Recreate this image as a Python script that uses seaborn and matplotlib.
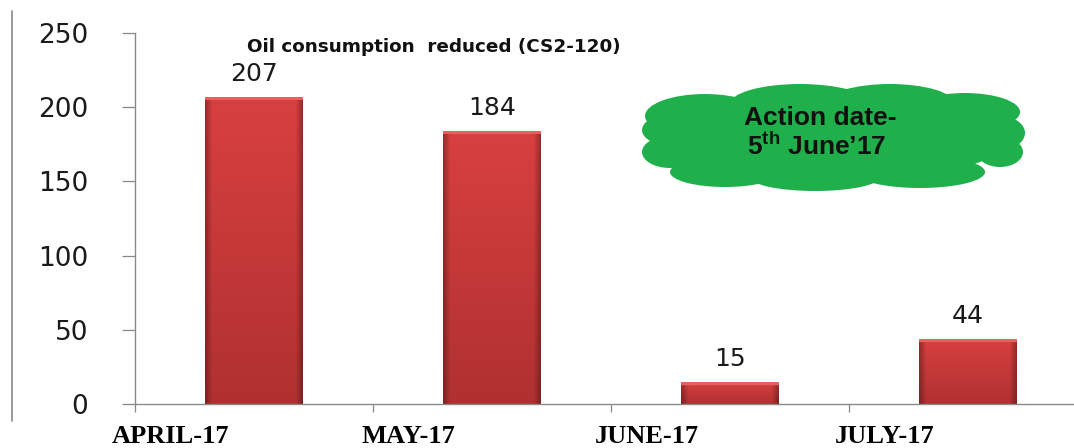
import matplotlib
matplotlib.use("Agg")
import matplotlib.pyplot as plt
from matplotlib.patches import Ellipse
from matplotlib.lines import Line2D
import seaborn as sns
import pandas as pd
import numpy as np

months = ["APRIL-17", "MAY-17", "JUNE-17", "JULY-17"]
values = [207, 184, 15, 44]
yticks = [0, 50, 100, 150, 200, 250]
title = "Oil consumption  reduced (CS2-120)"

sns.set_theme(style="white")
plt.rcParams["font.family"] = ["DejaVu Sans"]
plt.rcParams["mathtext.fontset"] = "custom"
plt.rcParams["mathtext.bf"] = "Liberation Sans:bold"
plt.rcParams["mathtext.rm"] = "Liberation Sans"

W, H = 1074, 448
fig = plt.figure(figsize=(W / 100, H / 100), dpi=100)
fig.patch.set_facecolor("white")

left_px, right_px, top_px, bottom_px = 135, 1087, 33, 404
ax = fig.add_axes([left_px / W, (H - bottom_px) / H,
                   (right_px - left_px) / W, (bottom_px - top_px) / H])

df = pd.DataFrame({"month": months, "value": values})
sns.barplot(data=df, x="month", y="value", color="#C73836", width=0.41,
            linewidth=0, saturation=1, ax=ax)

ax.set_xlim(-0.5, len(months) - 0.5)
ax.set_ylim(0, 250)

# gradient shading of each bar, clipped to the bar shape
px_per_unit = (bottom_px - top_px) / 250.0
for patch in list(ax.patches):
    x0, y0 = patch.get_x(), patch.get_y()
    w, h = patch.get_width(), patch.get_height()
    ny = max(int(round(h * px_per_unit)), 2)
    nx = 97
    t = np.linspace(1, 0, ny)[:, None]           # 1 top, 0 bottom
    u = np.linspace(0, 1, nx)[None, :]
    bottom_c = np.array([0.69, 0.19, 0.19])
    top_c = np.array([0.85, 0.25, 0.25])
    base = bottom_c + (top_c - bottom_c) * t[..., None]
    d = np.abs(2 * u - 1)
    shade = 1 - 0.30 * np.clip((d - 0.86) / 0.14, 0, 1)
    img = base * shade[..., None]
    img = np.broadcast_to(img, (ny, nx, 3)).copy()
    if ny > 6:
        img[0, :, :] = np.array([0.93, 0.50, 0.48])
        img[1:4, :, :] = np.array([0.90, 0.38, 0.37])
    im = ax.imshow(img, extent=[x0, x0 + w, y0, y0 + h], aspect="auto",
                   origin="upper", zorder=patch.get_zorder() + 0.1,
                   interpolation="bilinear")
    im.set_clip_path(patch)

ax.set_xlim(-0.5, len(months) - 0.5)
ax.set_ylim(0, 250)
ax.set_yticks(yticks)
ax.set_yticklabels([str(t) for t in yticks], fontsize=19, color="#1a1a1a")
ax.tick_params(axis="y", direction="out", length=9.5, width=0.9,
               color="#888888", pad=24, left=True)

# category labels shifted left, tick marks at category boundaries
ax.set_xticks([i - 0.35 for i in range(len(months))])
ax.set_xticklabels(months, fontsize=19, fontweight="bold",
                   family="Liberation Serif", color="black")
ax.tick_params(axis="x", which="major", length=0, pad=15)
ax.set_xticks([i - 0.5 for i in range(len(months))], minor=True)
ax.tick_params(axis="x", which="minor", direction="out", length=6,
               width=0.9, color="#888888", bottom=True)
ax.set_xlabel("")
ax.set_ylabel("")

for s in ["top", "right"]:
    ax.spines[s].set_visible(False)
for s in ["left", "bottom"]:
    ax.spines[s].set_color("#8a8a8a")
    ax.spines[s].set_linewidth(1.0)

for c in ax.containers:
    ax.bar_label(c, labels=[str(v) for v in values], padding=8,
                 fontsize=18, color="#1a1a1a")

fig.text(434 / W, 1 - 47 / H, title, ha="center", va="center",
         fontsize=13.2, fontweight="bold", color="#111111")

# left border line
fig.add_artist(Line2D([12 / W, 12 / W], [1 - 11 / H, 1 - 421 / H],
                      color="#8a8a8a", linewidth=1.2))

# cloud annotation
cloud_color = "#20B04B"
blobs = [
    (835, 140, 340, 84),
    (705, 116, 120, 44), (800, 104, 140, 40), (890, 104, 130, 40),
    (965, 112, 110, 38), (1000, 133, 50, 34), (1000, 152, 46, 30),
    (672, 130, 60, 32), (670, 152, 56, 32), (725, 172, 110, 30),
    (815, 177, 130, 28), (920, 172, 130, 32),
]
for cx, cy, w, h in blobs:
    fig.add_artist(Ellipse((cx / W, 1 - cy / H), w / W, h / H,
                           transform=fig.transFigure, facecolor=cloud_color,
                           edgecolor="none"))
fig.text(820 / W, 1 - 118 / H, "Action date-", ha="center", va="center",
         fontsize=19, fontweight="bold", family="Liberation Sans",
         color="#111111")
fig.text(817 / W, 1 - 146 / H, r"5$^{\mathbf{th}}$ June’17", ha="center",
         va="center", fontsize=19, fontweight="bold",
         family="Liberation Sans", color="#111111")

fig.savefig("out.png", dpi=100, facecolor="white")
